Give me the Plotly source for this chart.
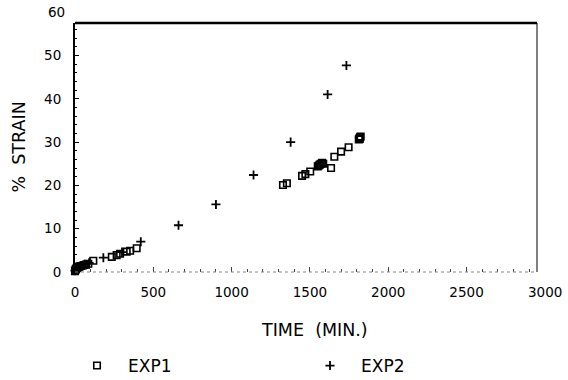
import plotly.graph_objects as go

# EXP1 (open squares)
exp1_time = [0, 3, 6, 10, 15, 20, 25, 30, 40, 50, 60, 70, 85, 117,
             235, 266, 288, 330, 352, 394,
             1328, 1353, 1450, 1471, 1502,
             1550, 1557, 1563, 1570, 1578, 1585,
             1635, 1656, 1699, 1747,
             1812, 1816, 1818, 1820, 1824]
exp1_strain = [0.2, 0.5, 0.7, 0.9, 1.0, 1.1, 1.2, 1.3, 1.4, 1.5, 1.6, 1.7, 1.9, 2.6,
               3.5, 3.9, 4.2, 4.7, 4.9, 5.5,
               20.1, 20.5, 22.2, 22.6, 23.2,
               24.4, 24.6, 24.8, 25.0, 25.2, 25.0,
               24.0, 26.6, 27.8, 28.8,
               30.6, 30.9, 30.7, 31.1, 31.3]

# EXP2 (plus signs)
exp2_time = [0, 5, 10, 20, 40, 60, 90, 181, 300, 420, 661, 900, 1140, 1377, 1613, 1733]
exp2_strain = [0.3, 0.6, 0.9, 1.2, 1.5, 1.8, 2.1, 3.3, 4.6, 7.0, 10.8, 15.6, 22.4, 30.0, 41.0, 47.7]

x_ticks = [0, 500, 1000, 1500, 2000, 2500]
y_ticks = [0, 10, 20, 30, 40, 50]
x_max, y_max = 2950, 57.5

FONT = "DejaVu Sans"
L, R, T, B = 75, 31, 23, 108
PW, PH = 568 - L - R, 380 - T - B
LEG_Y = (272 - 366) / PH

fig = go.Figure()
fig.add_trace(go.Scatter(
    x=exp1_time, y=exp1_strain, mode="markers", name="EXP1", cliponaxis=False,
    legend="legend",
    marker=dict(symbol="square-open", size=6.5, color="black", line=dict(width=1.6, color="black"))))
fig.add_trace(go.Scatter(
    x=exp2_time, y=exp2_strain, mode="markers", name="EXP2", cliponaxis=False,
    legend="legend2",
    marker=dict(symbol="cross-thin", size=6.5, color="black", line=dict(width=1.8, color="black"))))

leg_common = dict(orientation="h", xanchor="left", yanchor="middle", y=LEG_Y,
                  itemwidth=52, font=dict(family=FONT, size=17), itemclick=False,
                  bgcolor="rgba(0,0,0,0)")
fig.update_layout(
    width=568, height=380,
    margin=dict(l=L, r=R, t=T, b=B, autoexpand=False),
    paper_bgcolor="white", plot_bgcolor="white",
    font=dict(family=FONT, size=14, color="black"),
    showlegend=True,
    legend=dict(x=(66 - L) / PW, **leg_common),
    legend2=dict(x=(299 - L) / PW, **leg_common),
)
fig.update_xaxes(
    range=[0, x_max], tickvals=x_ticks, ticks="inside", ticklen=5, tickwidth=1,
    tickcolor="#444", showgrid=False, zeroline=False, showline=False,
    tickfont=dict(size=13.5), ticklabelstandoff=10,
    minor=dict(dtick=100, ticks="inside", ticklen=3, tickcolor="#444", showgrid=False))
fig.update_yaxes(
    range=[0, y_max], tickvals=y_ticks, ticks="inside", ticklen=4, tickwidth=1,
    tickcolor="black", showgrid=False, zeroline=False, showline=True,
    linecolor="black", linewidth=2, tickfont=dict(size=13.5), ticklabelstandoff=9,
    minor=dict(dtick=2, ticks="inside", ticklen=2, tickcolor="black", showgrid=False))

# frame
fig.add_shape(type="line", xref="paper", yref="paper", x0=0, x1=1, y0=1, y1=1,
              line=dict(color="black", width=2.5))
fig.add_shape(type="line", xref="paper", yref="paper", x0=1, x1=1, y0=0, y1=1,
              line=dict(color="black", width=1))
fig.add_shape(type="line", xref="paper", yref="paper", x0=0, x1=1, y0=0, y1=0,
              line=dict(color="#888", width=1, dash="dot"))

# tick labels that fall outside the frame
fig.add_annotation(x=3000 / x_max, y=(272 - 292) / PH, xref="paper", yref="paper", text="3000",
                   showarrow=False, xanchor="center", yanchor="middle", font=dict(size=13.5))
fig.add_annotation(x=0, y=60 / y_max, xref="paper", yref="paper", text="60", showarrow=False,
                   xanchor="right", yanchor="middle", xshift=-8, font=dict(size=13.5))

# axis titles
fig.add_annotation(x=(314 - L) / PW, y=(272 - 330) / PH, xref="paper", yref="paper",
                   text="TIME  (MIN.)", showarrow=False, font=dict(size=17.5),
                   xanchor="center", yanchor="middle")
fig.add_annotation(x=(18 - L) / PW, y=0.5, xref="paper", yref="paper",
                   text="%  STRAIN", showarrow=False, textangle=-90, font=dict(size=17.5),
                   xanchor="center", yanchor="middle")

fig.write_html("out.html", config={"displayModeBar": False},
               post_script="document.body.style.margin='0';")
